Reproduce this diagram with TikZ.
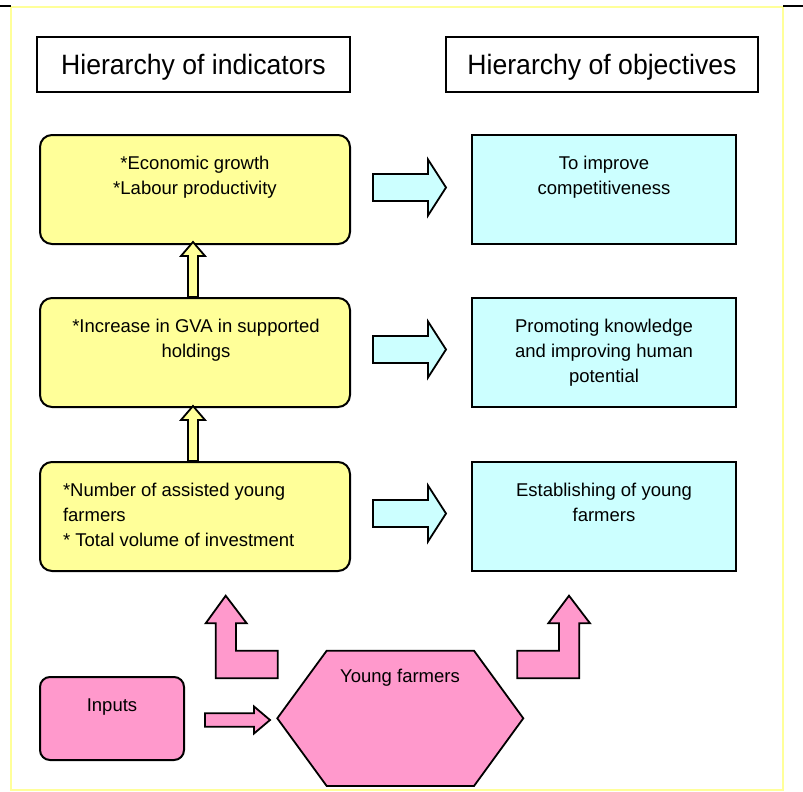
\documentclass[tikz,border=0pt]{standalone}
\usepackage{fontspec}
\setmainfont{Liberation Sans}
\newfontfamily\headfont{Liberation Sans}[FakeStretch=0.95]
\usetikzlibrary{calc}
\definecolor{indyellow}{HTML}{FFFF99}
\definecolor{objcyan}{HTML}{CCFFFF}
\definecolor{basepink}{HTML}{FF99CC}
\definecolor{framelemon}{HTML}{FFFF99}

\begin{document}
\begin{tikzpicture}[x=1pt,y=-1pt,
  every node/.style={inner sep=0pt, outer sep=0pt},
  headbox/.style={draw=black, line width=1.5pt, fill=white, minimum height=55pt,
    anchor=north west, text height=20pt, text depth=0pt,
    font=\headfont\fontsize{28}{30}\selectfont},
  indbox/.style={draw=black, line width=2pt, fill=indyellow, rounded corners=12pt,
    minimum width=310pt, minimum height=109pt, anchor=north west},
  objbox/.style={draw=black, line width=2pt, fill=objcyan,
    minimum width=264pt, minimum height=109pt, anchor=north west},
  inbox/.style={draw=black, line width=2pt, fill=basepink, rounded corners=10pt,
    minimum width=144pt, minimum height=83pt, anchor=north west},
  boxtext/.style={anchor=north, align=center, font=\fontsize{18.5}{25}\selectfont},
  shapeline/.style={draw=black, line width=1.8pt, line join=miter},
  rblock/.pic={\path[pic actions] (0,-13.5) -- (55,-13.5) -- (55,-28) -- (73,0)
      -- (55,28) -- (55,13.5) -- (0,13.5) -- cycle;},
  ublock/.pic={\path[pic actions] (-5,0) -- (-5,-41) -- (-12,-41) -- (0,-55)
      -- (12,-41) -- (5,-41) -- (5,0) -- cycle;},
  smallrblock/.pic={\path[pic actions] (0,-6.7) -- (49,-6.7) -- (49,-13.5) -- (65,0)
      -- (49,13.5) -- (49,6.7) -- (0,6.7) -- cycle;}
]
\useasboundingbox (0,0) rectangle (803,792);

% outer frame
\draw[framelemon, line width=1.5pt] (11,7) rectangle (783,790);
\draw[black, line width=2pt] (0,6) -- (11,6);
\draw[black, line width=2pt] (783,6) -- (803,6);

% column headings
\node[headbox, minimum width=313pt] (hind) at (37,37) {Hierarchy of indicators};
\node[headbox, minimum width=312pt] (hobj) at (446,37) {Hierarchy of objectives};

% indicator boxes
\node[indbox] (ind1) at (40,135) {};
\node[indbox] (ind2) at (40,298) {};
\node[indbox] (ind3) at (40,462) {};

% objective boxes
\node[objbox] (obj1) at (472,135) {};
\node[objbox] (obj2) at (472,298) {};
\node[objbox] (obj3) at (472,462) {};

% box texts
\node[boxtext] (ind1t) at ([yshift=-20.5pt]ind1.north)
  {\rule{0pt}{14pt}*Economic growth\\*Labour productivity};
\node[boxtext] (ind2t) at ([xshift=1pt,yshift=-20.5pt]ind2.north)
  {\rule{0pt}{14pt}*Increase in GVA in supported\\holdings};
\node[boxtext, anchor=north west, align=left] (ind3t) at ([xshift=23pt,yshift=-20.5pt]ind3.north west)
  {\rule{0pt}{14pt}*Number of assisted young\\farmers\\* Total volume of investment};
\node[boxtext] (obj1t) at ([yshift=-20pt]obj1.north)
  {\rule{0pt}{14pt}To improve\\competitiveness};
\node[boxtext] (obj2t) at ([yshift=-20pt]obj2.north)
  {\rule{0pt}{14pt}Promoting knowledge\\and improving human\\potential};
\node[boxtext] (obj3t) at ([yshift=-20pt]obj3.north)
  {\rule{0pt}{14pt}Establishing of young\\farmers};

% indicator -> objective block arrows
\pic[shapeline, fill=objcyan] at ($(ind1.east)+(23,-2)$) {rblock};
\pic[shapeline, fill=objcyan] at ($(ind2.east)+(23,-3)$) {rblock};
\pic[shapeline, fill=objcyan] at ($(ind3.east)+(23,-3)$) {rblock};

% upward arrows between indicator levels
\pic[shapeline, fill=indyellow] at ($(ind2.north)+(-2,-1)$) {ublock};
\pic[shapeline, fill=indyellow] at ($(ind3.north)+(-2,-1)$) {ublock};

% inputs and target group
\node[inbox] (inputs) at (40,677) {};
\node[boxtext] (inputst) at ([yshift=-20.5pt]inputs.north) {\rule{0pt}{14pt}Inputs};

\path[shapeline, fill=basepink] (326.7,650.7) -- (474,650.7) -- (523.3,718.3)
  -- (474,786) -- (326.7,786) -- (277.3,718.3) -- cycle;
\node[boxtext] (yf) at (400,668.7) {\rule{0pt}{14pt}Young farmers};

\pic[shapeline, fill=basepink] at ($(inputs.east)+(21,1.5)$) {smallrblock};

% bent arrows rising from the target group
\path[shapeline, fill=basepink] (215.7,678.3) -- (277.7,678.3) -- (277.7,650.7)
  -- (236,650.7) -- (236,623.3) -- (246.7,623.3) -- (225.7,595.7)
  -- (205.7,623.3) -- (215.7,623.3) -- cycle;
\path[shapeline, fill=basepink] (517.3,678.3) -- (579.3,678.3) -- (579.3,623.3)
  -- (590,623.3) -- (569,595.7) -- (548.3,623.3) -- (559,623.3)
  -- (559,650.7) -- (517.3,650.7) -- cycle;
\end{tikzpicture}
\end{document}
